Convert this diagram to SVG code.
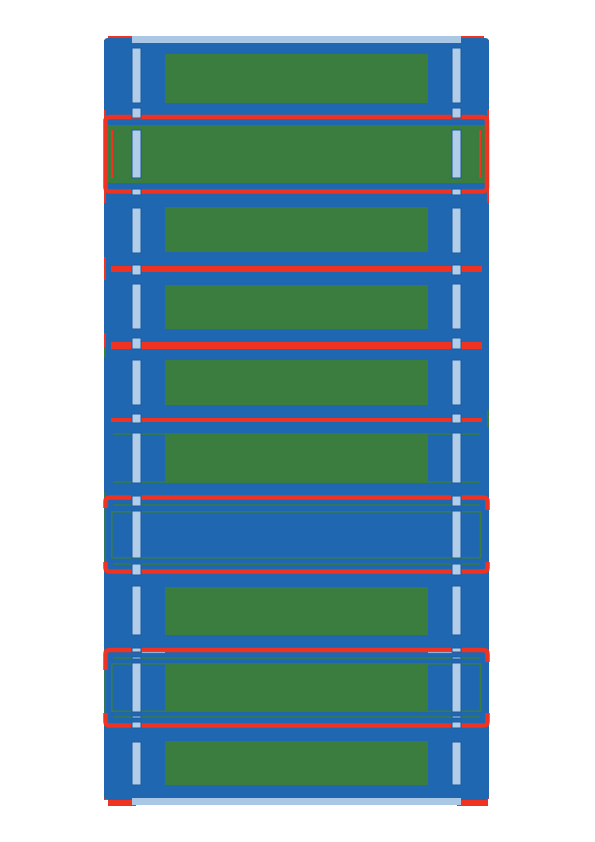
<svg xmlns="http://www.w3.org/2000/svg" width="595" height="842" viewBox="0 0 595 842">
<style>
.bg{fill:#1f67b1}
.g{fill:#3a7d3f}
.r{fill:#ee3323}
.ro{fill:none;stroke:#ee3323;stroke-width:4.5}
.go{fill:none;stroke:#3a7d3f;stroke-width:1.6}
.gl{stroke:#3a7d3f;stroke-width:1.4}
.lb{fill:#b2cde8;stroke:#1a5ba0;stroke-width:1}
.strip{fill:#aac8e6}
</style>
<rect width="595" height="842" fill="#ffffff"/>
<g id="frame">
<rect class="r" x="108" y="36" width="28" height="3"/>
<rect class="r" x="457" y="36" width="27" height="3"/>
<rect class="r" x="104" y="40" width="2" height="6"/>
<rect class="r" x="487" y="40" width="2" height="7"/>
<rect class="r" x="108" y="800" width="28" height="6"/>
<rect class="r" x="457" y="799" width="31" height="7"/>
<rect class="r" x="104" y="790" width="2" height="10"/>
<rect class="r" x="487" y="785" width="2" height="14"/>
<rect class="bg" x="104" y="38" width="385" height="762" rx="4"/>
<rect class="strip" x="132" y="36" width="329" height="7"/>
<rect class="strip" x="132" y="798" width="329" height="7"/>
</g>
<g id="row1"><rect class="g" x="165" y="54" width="263" height="49"/></g>
<g id="row2">
<rect class="g" x="107" y="125" width="380" height="58"/>
<rect class="ro" x="105.5" y="117" width="381.5" height="74.5" rx="4"/>
<rect class="r" x="104" y="110" width="2" height="93"/>
<rect class="r" x="487" y="110" width="2" height="93"/>
<rect class="r" x="111" y="130" width="2" height="48"/>
<rect class="r" x="479" y="130" width="2" height="48"/>
</g>
<g id="row3"><rect class="g" x="165" y="207" width="263" height="45"/></g>
<g id="row4"><rect class="g" x="165" y="285" width="263" height="44"/></g>
<g id="row5"><rect class="g" x="165" y="360" width="263" height="45"/></g>
<g id="row6">
<rect class="g" x="165" y="433" width="263" height="50"/>
<line class="gl" x1="113" y1="434" x2="480" y2="434"/>
<line class="gl" x1="113" y1="482" x2="480" y2="482"/>
</g>
<g id="row7">
<line class="gl" x1="105" y1="492" x2="105" y2="562"/>
<path class="ro" d="M105.5 508 V501.5 Q105.5 497.5 109.5 497.5 H483.5 Q487.5 497.5 487.5 501.5 V510"/>
<path class="ro" d="M105.5 562 V567.5 Q105.5 571.5 109.5 571.5 H483.5 Q487.5 571.5 487.5 567.5 V562"/>
<line class="gl" x1="113" y1="505" x2="480" y2="505"/>
<line class="gl" x1="113" y1="564" x2="480" y2="564"/>
<rect class="go" x="111.8" y="511.8" width="368.7" height="46"/>
</g>
<g id="row8"><rect class="g" x="165" y="587" width="263" height="48"/></g>
<g id="row9">
<line class="gl" x1="105" y1="668" x2="105" y2="715"/>
<path class="ro" d="M105.5 670 V654 Q105.5 650 109.5 650 H483.5 Q487.5 650 487.5 654 V662"/>
<path class="ro" d="M105.5 713 V721.5 Q105.5 725.5 109.5 725.5 H483.5 Q487.5 725.5 487.5 721.5 V713"/>
<line class="gl" x1="113" y1="658" x2="480" y2="658"/>
<line class="gl" x1="113" y1="717" x2="480" y2="717"/>
<rect class="go" x="111.8" y="663.8" width="368.7" height="47.5"/>
<rect class="g" x="165" y="664" width="263" height="47"/>
<line stroke="#8fb3da" stroke-width="1.2" x1="142" y1="652.5" x2="165" y2="652.5"/>
<line stroke="#8fb3da" stroke-width="1.2" x1="428" y1="652.5" x2="452" y2="652.5"/>
</g>
<g id="row10"><rect class="g" x="165" y="741" width="263" height="44"/></g>
<g id="connectors">
<rect class="r" x="111" y="266" width="371" height="6"/>
<rect class="r" x="111" y="342" width="371" height="7"/>
<rect class="r" x="111" y="418" width="371" height="4"/>
<rect class="r" x="104" y="257" width="2" height="23"/>
<rect class="r" x="104" y="333" width="2" height="14"/>
<rect class="g" x="104" y="347" width="2" height="10"/>
<rect class="g" x="487" y="410" width="2" height="17"/>
</g>
<g id="bars">
<rect class="lb" x="132" y="48" width="9" height="55"/><rect class="lb" x="452" y="48" width="9" height="55"/>
<rect class="lb" x="132" y="108" width="9" height="10"/><rect class="lb" x="452" y="108" width="9" height="10"/>
<rect class="lb" x="132" y="130" width="9" height="48"/><rect class="lb" x="452" y="130" width="9" height="48"/>
<rect class="lb" x="132" y="189" width="9" height="6"/><rect class="lb" x="452" y="189" width="9" height="6"/>
<rect class="lb" x="132" y="208" width="9" height="45"/><rect class="lb" x="452" y="208" width="9" height="45"/>
<rect class="lb" x="132" y="265" width="9" height="10"/><rect class="lb" x="452" y="265" width="9" height="10"/>
<rect class="lb" x="132" y="284" width="9" height="45"/><rect class="lb" x="452" y="284" width="9" height="45"/>
<rect class="lb" x="132" y="338" width="9" height="11"/><rect class="lb" x="452" y="338" width="9" height="11"/>
<rect class="lb" x="132" y="360" width="9" height="45"/><rect class="lb" x="452" y="360" width="9" height="45"/>
<rect class="lb" x="132" y="414" width="9" height="9"/><rect class="lb" x="452" y="414" width="9" height="9"/>
<rect class="lb" x="132" y="433" width="9" height="50"/><rect class="lb" x="452" y="433" width="9" height="50"/>
<rect class="lb" x="132" y="496" width="9" height="10"/><rect class="lb" x="452" y="496" width="9" height="10"/>
<rect class="lb" x="132" y="511" width="9" height="47"/><rect class="lb" x="452" y="511" width="9" height="47"/>
<rect class="lb" x="132" y="564" width="9" height="11"/><rect class="lb" x="452" y="564" width="9" height="11"/>
<rect class="lb" x="132" y="586" width="9" height="49"/><rect class="lb" x="452" y="586" width="9" height="49"/>
<rect class="lb" x="132" y="648" width="9" height="4"/><rect class="lb" x="452" y="648" width="9" height="4"/>
<rect class="lb" x="132" y="657" width="9" height="2"/><rect class="lb" x="452" y="657" width="9" height="2"/>
<rect class="lb" x="132" y="663" width="9" height="49"/><rect class="lb" x="452" y="663" width="9" height="49"/>
<rect class="lb" x="132" y="716" width="9" height="2"/><rect class="lb" x="452" y="716" width="9" height="2"/>
<rect class="lb" x="132" y="722" width="9" height="6"/><rect class="lb" x="452" y="722" width="9" height="6"/>
<rect class="lb" x="132" y="742" width="9" height="43"/><rect class="lb" x="452" y="742" width="9" height="43"/>
</g>
</svg>
